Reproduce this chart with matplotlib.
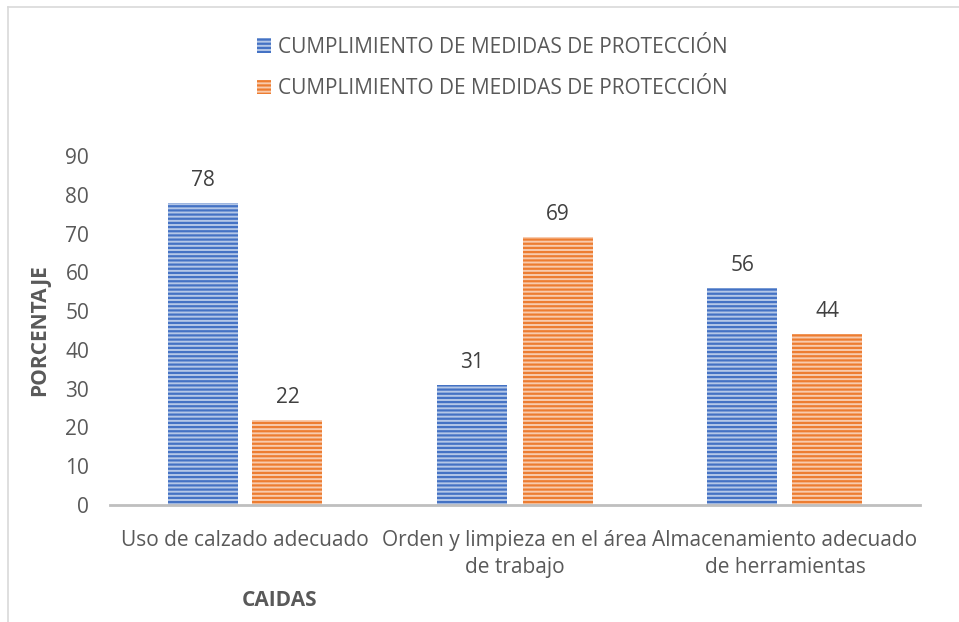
import matplotlib.pyplot as plt
import numpy as np
from matplotlib.patches import Patch

plt.rcParams['font.family'] = ['Open Sans', 'DejaVu Sans']
plt.rcParams['hatch.linewidth'] = 1.6

categorias = ["Uso de calzado adecuado",
              "Orden y limpieza en el área\nde trabajo",
              "Almacenamiento adecuado\nde herramientas"]
serie_1 = [78, 31, 56]
serie_2 = [22, 69, 44]
nombre_serie = "CUMPLIMIENTO DE MEDIDAS DE PROTECCIÓN"

azul = '#4472C4'
naranja = '#ED7D31'
azul_claro = '#B4C7E7'
naranja_claro = '#F8CBAD'

fig = plt.figure(figsize=(9.59, 6.22), dpi=100)
ax = fig.add_axes([110/959, 1 - 505/622, 810/959, (505 - 156)/622])

x = np.arange(len(categorias))
w = 70/270
off = 42.5/270

b1 = ax.bar(x - off, serie_1, w, color=azul_claro, edgecolor=azul, linewidth=0, hatch='----')
b2 = ax.bar(x + off, serie_2, w, color=naranja_claro, edgecolor=naranja, linewidth=0, hatch='----')

for bars in (b1, b2):
    for r in bars:
        ax.annotate(str(int(r.get_height())), (r.get_x() + r.get_width()/2, r.get_height()),
                    xytext=(0, 12), textcoords='offset pixels', ha='center', va='bottom',
                    fontsize=15, color='#404040')

ax.set_xlim(-0.5, 2.5)
ax.set_ylim(0, 90)
ax.set_yticks(range(0, 100, 10))
ax.set_xticks(x)
ax.set_xticklabels(categorias, fontsize=15, color='#595959', linespacing=1.4)
ax.tick_params(axis='y', labelsize=15, labelcolor='#595959', length=0, pad=15)
ax.tick_params(axis='x', length=0, pad=18)
for s in ['top', 'right', 'left']:
    ax.spines[s].set_visible(False)
ax.spines['bottom'].set_color('#BFBFBF')
ax.spines['bottom'].set_linewidth(2)

fig.text(40/959, 1 - 330/622, 'PORCENTAJE', rotation=90, ha='center', va='center',
         fontsize=15, fontweight='bold', color='#595959')
fig.text(280/959, 1 - 601/622, 'CAIDAS', ha='center', va='center',
         fontsize=15, fontweight='bold', color='#595959')

handles = [Patch(facecolor=azul_claro, edgecolor=azul, hatch='----', linewidth=0),
           Patch(facecolor=naranja_claro, edgecolor=naranja, hatch='----', linewidth=0)]
leg = fig.legend(handles, [nombre_serie, nombre_serie], loc='center', bbox_to_anchor=(492/959, 1 - 68/622),
                 ncol=1, frameon=False, fontsize=15, handlelength=0.7, handleheight=0.7,
                 handletextpad=0.3, labelspacing=1.0)
for t in leg.get_texts():
    t.set_color('#595959')

# borde del grafico
fig.add_artist(plt.Line2D([8/959, 1], [1 - 7/622, 1 - 7/622], color='#D9D9D9', lw=1.2))
fig.add_artist(plt.Line2D([8/959, 8/959], [0, 1 - 7/622], color='#D9D9D9', lw=1.2))

fig.savefig('out.png', dpi=100)
